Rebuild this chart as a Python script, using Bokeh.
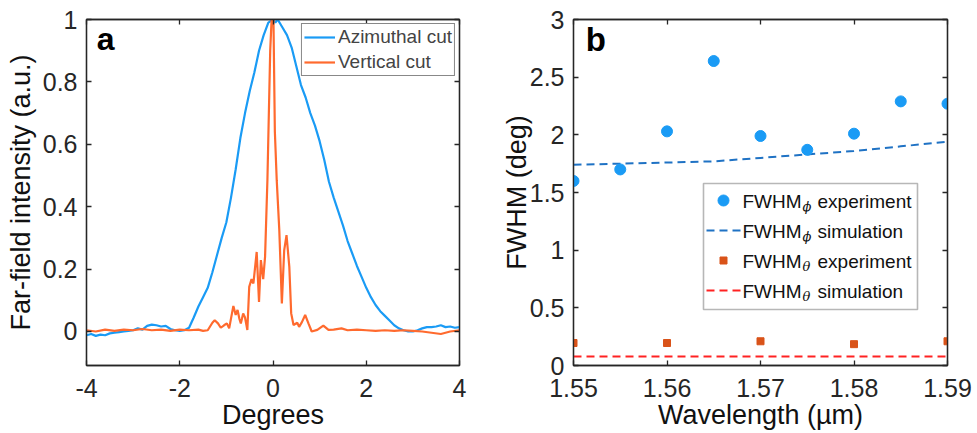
from bokeh.plotting import figure
from bokeh.models import (Range1d, FixedTicker, LinearAxis, Legend, LegendItem,
                          Label, BoxAnnotation, CustomJSTickFormatter)
from bokeh.layouts import row
from bokeh.embed import file_html
from bokeh.resources import INLINE

FONT = "Liberation Sans"
AX = "#262626"

# ---------------- panel a data ----------------
az_deg = [-4.0, -3.9, -3.8, -3.7, -3.6, -3.5, -3.4, -3.3, -3.2, -3.1, -3.0, -2.9, -2.8, -2.7,
          -2.6, -2.5, -2.4, -2.3, -2.2, -2.1, -2.0, -1.9, -1.8, -1.7, -1.6, -1.5, -1.4, -1.3,
          -1.2, -1.1, -1.0, -0.9, -0.8, -0.7, -0.6, -0.5, -0.4, -0.3, -0.2, -0.1, 0.0, 0.05,
          0.1, 0.2, 0.3, 0.4, 0.5, 0.6, 0.7, 0.8, 0.9, 1.0, 1.1, 1.2, 1.3, 1.4, 1.5, 1.6, 1.7,
          1.8, 1.9, 2.0, 2.1, 2.2, 2.3, 2.4, 2.5, 2.6, 2.7, 2.8, 2.9, 3.0, 3.1, 3.2, 3.3, 3.4,
          3.5, 3.6, 3.7, 3.8, 3.9, 4.0]
az_int = [-0.012, -0.008, -0.014, -0.010, -0.012, -0.006, -0.004, -0.002, 0.000, 0.002, 0.004,
          0.010, 0.006, 0.018, 0.022, 0.020, 0.016, 0.018, 0.008, 0.004, 0.002, 0.004, 0.012,
          0.045, 0.080, 0.110, 0.140, 0.190, 0.245, 0.300, 0.350, 0.430, 0.520, 0.620, 0.700,
          0.770, 0.830, 0.900, 0.950, 0.990, 1.000, 0.990, 1.000, 0.975, 0.950, 0.910, 0.850,
          0.790, 0.750, 0.700, 0.660, 0.610, 0.550, 0.480, 0.430, 0.385, 0.340, 0.290, 0.250,
          0.210, 0.175, 0.140, 0.110, 0.085, 0.065, 0.050, 0.035, 0.020, 0.010, 0.004, 0.000,
          0.000, 0.004, 0.010, 0.014, 0.014, 0.016, 0.020, 0.014, 0.016, 0.012, 0.014]

vc_deg = [-4.0, -3.8, -3.6, -3.4, -3.2, -3.0, -2.8, -2.6, -2.4, -2.2, -2.0, -1.8, -1.6, -1.5,
          -1.4, -1.3, -1.25, -1.18, -1.12, -1.05, -0.99, -0.94, -0.85, -0.80, -0.76, -0.72,
          -0.69, -0.64, -0.60, -0.55, -0.51, -0.46, -0.42, -0.35, -0.30, -0.26, -0.21, -0.17,
          -0.12, -0.06, -0.03, 0.01, 0.04, 0.08, 0.135, 0.19, 0.24, 0.29, 0.35, 0.39, 0.44,
          0.52, 0.56, 0.62, 0.69, 0.76, 0.83, 0.95, 1.08, 1.19, 1.3, 1.47, 1.6, 1.8, 2.0, 2.2,
          2.4, 2.6, 2.8, 3.0, 3.2, 3.4, 3.6, 3.7, 3.8, 4.0]
vc_int = [0.004, 0.000, 0.006, 0.002, 0.006, 0.004, 0.008, 0.004, 0.006, 0.002, 0.006, 0.004,
          0.006, 0.002, 0.004, 0.028, 0.036, 0.026, 0.012, 0.020, 0.026, 0.010, 0.082, 0.053,
          0.069, 0.040, 0.026, 0.058, 0.045, 0.005, 0.143, 0.168, 0.154, 0.255, 0.095, 0.229,
          0.168, 0.240, 0.485, 0.900, 1.000, 1.000, 0.640, 0.485, 0.325, 0.090, 0.260, 0.309,
          0.207, 0.058, 0.021, 0.028, 0.015, 0.030, 0.053, 0.026, 0.000, 0.005, 0.019, 0.005,
          0.006, 0.010, 0.004, 0.006, 0.004, 0.002, 0.004, 0.002, 0.004, 0.002, 0.000, -0.004,
          -0.008, -0.004, 0.000, 0.004]

a_x_ticks = [-4, -2, 0, 2, 4]
a_x_labels = ["-4", "-2", "0", "2", "4"]
a_y_ticks = [0, 0.2, 0.4, 0.6, 0.8, 1]
a_y_labels = ["0", "0.2", "0.4", "0.6", "0.8", "1"]

# ---------------- panel b data ----------------
wl = [1.55, 1.555, 1.56, 1.565, 1.57, 1.575, 1.58, 1.585, 1.59]
phi_exp = [1.60, 1.70, 2.03, 2.64, 1.99, 1.87, 2.01, 2.29, 2.27]
phi_sim = [1.74, 1.75, 1.76, 1.77, 1.80, 1.83, 1.86, 1.90, 1.94]
wl_theta = [1.55, 1.56, 1.57, 1.58, 1.59]
theta_exp = [0.195, 0.195, 0.21, 0.185, 0.21]
theta_sim = [0.078, 0.078, 0.078, 0.078, 0.078]

b_x_ticks = [1.55, 1.56, 1.57, 1.58, 1.59]
b_x_labels = ["1.55", "1.56", "1.57", "1.58", "1.59"]
b_y_ticks = [0, 0.5, 1, 1.5, 2, 2.5, 3]
b_y_labels = ["0", "0.5", "1", "1.5", "2", "2.5", "3"]

BLUE = "#1a9bf5"
ORANGE = "#ff6a2e"
BLUE_D = "#1f72c4"
SQ = "#d95319"
RED = "#ff2222"


def style_axes(p, xt, xl, yt, yl, xlabel, ylabel, xtick_off, xlab_off, ylab_off):
    bx = p.below[0]
    ly = p.left[0]
    for ax, t, l in ((bx, xt, xl), (ly, yt, yl)):
        ax.ticker = FixedTicker(ticks=t)
        ax.major_label_overrides = {k: v for k, v in zip(t, l)}
        ax.major_tick_in = 5
        ax.major_tick_out = 0
        ax.minor_tick_line_color = None
        ax.axis_line_color = AX
        ax.axis_line_width = 1.3
        ax.major_tick_line_color = AX
        ax.major_tick_line_width = 1.3
        ax.major_label_text_font = FONT
        ax.major_label_text_font_size = "25px"
        ax.major_label_text_color = AX
        ax.axis_label_text_font = FONT
        ax.axis_label_text_font_size = "27px"
        ax.axis_label_text_font_style = "normal"
        ax.axis_label_text_color = "#111111"
    bx.axis_label = xlabel
    ly.axis_label = ylabel
    bx.major_label_standoff = xtick_off
    bx.axis_label_standoff = xlab_off
    ly.major_label_standoff = 9
    ly.axis_label_standoff = ylab_off
    for loc, t in (("above", xt), ("right", yt)):
        ax = LinearAxis(ticker=FixedTicker(ticks=t),
                        formatter=CustomJSTickFormatter(code="return ''"),
                        major_tick_in=5, major_tick_out=0, minor_tick_line_color=None,
                        axis_line_color=AX, axis_line_width=1.3,
                        major_tick_line_color=AX, major_tick_line_width=1.3,
                        major_label_standoff=0, major_label_text_font_size="1px")
        p.add_layout(ax, loc)
    p.grid.visible = False
    p.outline_line_color = AX
    p.outline_line_width = 1.3
    p.background_fill_color = "white"
    p.border_fill_color = "white"


# ---------------- panel a ----------------
pa = figure(width=498, height=433, output_backend="svg", toolbar_location=None,
            x_range=Range1d(-4, 4), y_range=Range1d(-0.109, 1),
            min_border_left=86, min_border_right=39, min_border_top=19, min_border_bottom=68)
ra = pa.line(az_deg, az_int, line_color=BLUE, line_width=2.2)
rv = pa.line(vc_deg, vc_int, line_color=ORANGE, line_width=2.2)
style_axes(pa, a_x_ticks, a_x_labels, a_y_ticks, a_y_labels, "Degrees",
           "Far-field intensity (a.u.)", 13, 0, 4)

leg_a = Legend(items=[LegendItem(label="Azimuthal cut", renderers=[ra]),
                      LegendItem(label="Vertical cut", renderers=[rv])],
               location="top_right", margin=4, padding=2, spacing=3,
               glyph_height=20, glyph_width=31, label_height=20, label_standoff=3,
               label_text_font=FONT, label_text_font_size="19px",
               border_line_color="#111111", border_line_width=1.6,
               background_fill_color="white", background_fill_alpha=1.0)
pa.add_layout(leg_a)
pa.add_layout(Label(x=-3.78, y=0.994, text="a", text_font=FONT, text_font_size="32px",
                    text_font_style="bold", text_color="#000000", text_baseline="top"))

# ---------------- panel b ----------------
pb = figure(width=479, height=433, output_backend="svg", toolbar_location=None,
            x_range=Range1d(1.55, 1.59), y_range=Range1d(0, 3),
            min_border_left=75, min_border_right=30, min_border_top=19, min_border_bottom=68)
pb.line(wl, phi_sim, line_color=BLUE_D, line_width=2, line_dash="8 5")
pb.line(wl_theta, theta_sim, line_color=RED, line_width=2, line_dash="8 5")
pb.scatter(wl, phi_exp, marker="circle", size=11, fill_color=BLUE, line_color=BLUE)
pb.scatter(wl_theta, theta_exp, marker="square", size=7, fill_color=SQ, line_color=SQ)
style_axes(pb, b_x_ticks, b_x_labels, b_y_ticks, b_y_labels, "Wavelength (\u00b5m)",
           "FWHM (deg)", 13, 0, -5)
pb.add_layout(Label(x=1.5513, y=2.983, text="b", text_font=FONT, text_font_size="33px",
                    text_font_style="bold", text_color="#000000", text_baseline="top"))

# manual legend (subscripts), positioned in panel-b pixel space
FL, FR, FT, FB = 573.0, 947.0, 19.0, 365.0


def dx(px):
    return 1.55 + (px - FL) / (FR - FL) * 0.04


def dy(py):
    return (FB - py) / (FB - FT) * 3.0


pb.add_layout(BoxAnnotation(left=dx(703), right=dx(917), top=dy(183), bottom=dy(309),
                            fill_color="white", fill_alpha=1.0, level="underlay",
                            line_color="#111111", line_width=1.6))
leg_rows = [("\u03d5", "experiment"), ("\u03d5", "simulation"),
            ("\u03b8", "experiment"), ("\u03b8", "simulation")]
row_mid = [200, 230, 260, 290]
pb.scatter([dx(723)], [dy(row_mid[0])], marker="circle", size=11, fill_color=BLUE, line_color=BLUE)
pb.line([dx(706), dx(740)], [dy(row_mid[1])] * 2, line_color=BLUE_D, line_width=2, line_dash="8 5")
pb.scatter([dx(723)], [dy(row_mid[2])], marker="square", size=7, fill_color=SQ, line_color=SQ)
pb.line([dx(706), dx(740)], [dy(row_mid[3])] * 2, line_color=RED, line_width=2, line_dash="8 5")
for (sub, rest), ym in zip(leg_rows, row_mid):
    base = ym + 1
    pb.add_layout(Label(x=dx(742), y=dy(base), text="FWHM", text_font=FONT,
                        text_font_size="19px", text_color="#111111", text_baseline="alphabetic"))
    pb.add_layout(Label(x=dx(802), y=dy(base + 5), text=sub, text_font="DejaVu Serif",
                        text_font_size="13px", text_font_style="italic", text_color="#111111",
                        text_baseline="alphabetic"))
    pb.add_layout(Label(x=dx(817), y=dy(base), text=rest, text_font=FONT,
                        text_font_size="19px", text_color="#111111", text_baseline="alphabetic"))

layout = row(pa, pb)
open("out.html", "w").write(file_html(layout, INLINE))
